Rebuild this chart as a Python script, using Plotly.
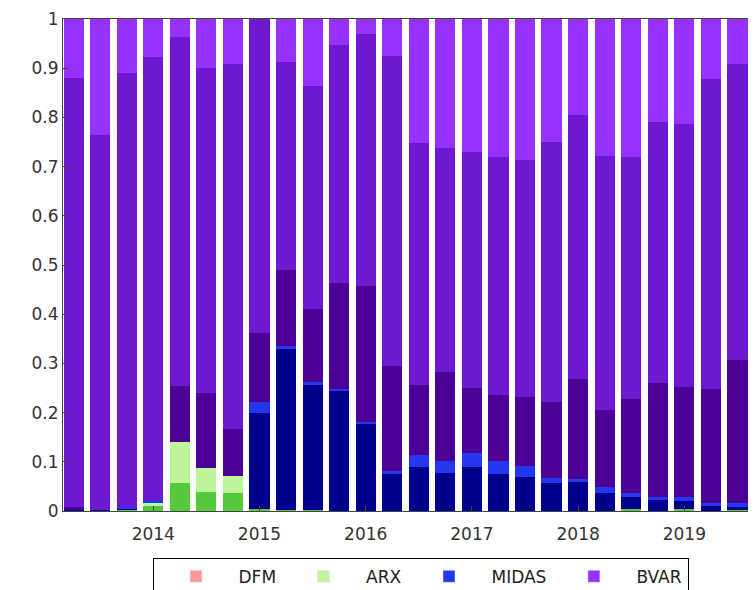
import plotly.graph_objects as go

dates = [2013.25 + 0.25 * i for i in range(27)]
arx_dark = [0, 0, 0.003, 0.01, 0.057, 0.039, 0.036, 0.004, 0.002, 0.003, 0, 0, 0, 0, 0, 0, 0, 0, 0, 0, 0, 0.004, 0, 0.004, 0, 0.004, 0]
arx_light = [0, 0, 0, 0.007, 0.083, 0.048, 0.036, 0, 0, 0, 0, 0, 0, 0, 0, 0, 0, 0, 0, 0, 0, 0, 0, 0, 0, 0, 0]
midas_navy = [0.003, 0.003, 0.002, 0, 0, 0, 0, 0.196, 0.328, 0.253, 0.243, 0.177, 0.075, 0.09, 0.078, 0.09, 0.075, 0.07, 0.057, 0.058, 0.037, 0.025, 0.022, 0.016, 0.01, 0.004, 0.006]
midas_blue = [0, 0, 0.003, 0.005, 0, 0, 0, 0.022, 0.006, 0.007, 0.005, 0.004, 0.007, 0.023, 0.023, 0.028, 0.026, 0.021, 0.011, 0.008, 0.012, 0.008, 0.006, 0.008, 0.006, 0.008, 0.006]
bvar_dark = [0.005, 0, 0, 0, 0.114, 0.153, 0.095, 0.14, 0.154, 0.147, 0.215, 0.277, 0.213, 0.143, 0.182, 0.132, 0.135, 0.141, 0.154, 0.202, 0.156, 0.191, 0.232, 0.224, 0.232, 0.291, 0.301]
bvar_mid = [0.872, 0.762, 0.882, 0.901, 0.709, 0.66, 0.741, 0.638, 0.423, 0.454, 0.484, 0.512, 0.63, 0.492, 0.455, 0.48, 0.484, 0.481, 0.528, 0.537, 0.517, 0.492, 0.53, 0.534, 0.63, 0.601, 0.61]

bvar_light = []
for k in range(27):
    s = arx_dark[k] + arx_light[k] + midas_navy[k] + midas_blue[k] + bvar_dark[k] + bvar_mid[k]
    bvar_light.append(max(0.0, 1 - s))

layers = [
    ("ARX1", arx_dark, "#55C83C"),
    ("ARX2", arx_light, "#BFF59A"),
    ("MIDAS1", midas_navy, "#00008C"),
    ("MIDAS2", midas_blue, "#2436EE"),
    ("BVAR1", bvar_dark, "#4B0096"),
    ("BVAR2", bvar_mid, "#6E18CF"),
    ("BVAR3", bvar_light, "#9632FF"),
]

fig = go.Figure()
for name, vals, col in layers:
    fig.add_trace(go.Bar(x=dates, y=vals, name=name, marker_color=col,
                         marker_line_width=0, width=0.19, showlegend=False))

legend_items = [("DFM", "#FF9999"), ("ARX", "#BFF59A"), ("MIDAS", "#2436EE"), ("BVAR", "#9632FF")]
for name, col in legend_items:
    fig.add_trace(go.Bar(x=[None], y=[None], name=name, marker_color=col, showlegend=True))

fig.update_layout(
    barmode="stack", width=756, height=590,
    margin=dict(l=55, r=0, t=11, b=87, autoexpand=False),
    plot_bgcolor="white", paper_bgcolor="white",
    font=dict(family="DejaVu Sans", size=17, color="#333"),
    legend=dict(orientation="h", x=0.51, xanchor="center", y=-0.095, yanchor="top",
                traceorder="normal", itemwidth=75,
                bordercolor="black", borderwidth=1, font=dict(size=17, color="#222")),
)
fig.update_xaxes(range=[2013.15, 2019.75], tickvals=[2014, 2015, 2016, 2017, 2018, 2019],
                 ticktext=["2014", "2015", "2016", "2017", "2018", "2019"],
                 ticks="inside", ticklen=5, showline=True, linecolor="#444", mirror=True,
                 showgrid=False, zeroline=False, ticklabelstandoff=8)
fig.update_yaxes(range=[0, 1], tickvals=[i / 10 for i in range(11)],
                 ticktext=["0", "0.1", "0.2", "0.3", "0.4", "0.5", "0.6", "0.7", "0.8", "0.9", "1"],
                 ticks="inside", ticklen=5, showline=True, linecolor="#444", mirror=True,
                 showgrid=False, zeroline=False)
fig.write_html("out.html")
